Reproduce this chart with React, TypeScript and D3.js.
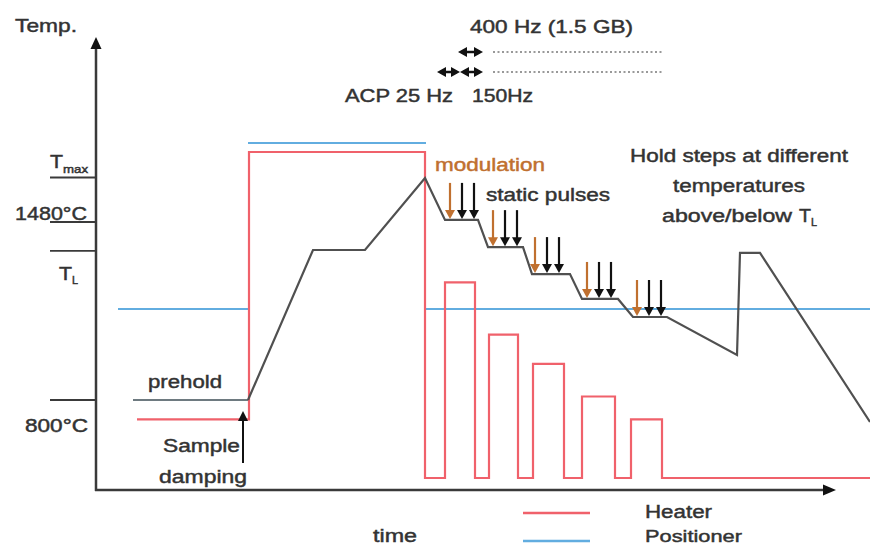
import React from 'react';
import * as d3 from 'd3';

const W = 870;
const H = 546;

// Temperature programme (arbitrary time units, °C)
const tempTime = [152, 217, 269, 329, 349, 382, 392, 427, 436, 474, 486, 522, 537, 571, 641, 644, 664, 774];
const tempValue = [800, 1373, 1373, 1648, 1488, 1488, 1384, 1384, 1281, 1281, 1186, 1186, 1117, 1117, 972, 1362, 1362, 716];

// Heater power (% of max), step changes
const heaterTime = [41, 153, 329, 349, 379, 393, 422, 437, 468, 486, 519, 535, 566, 774];
const heaterPower = [18, 100, 0, 60, 0, 44, 0, 35, 0, 25, 0, 18, 0, 0];

// Positioner level (0 = low, 1 = high)
const positionerStart = [22, 152, 330];
const positionerEnd = [152, 330, 774];
const positionerLevel = [0, 1, 0];

// Prehold line
const preholdStart = 37;
const preholdEnd = 152;
const preholdTemp = 800;

// Hold steps with modulation / static pulse arrows
const holdStepTime = [354, 397, 439, 491, 541];
const holdStepTemp = [1488, 1384, 1281, 1186, 1117];

// Y-axis ticks
const tickTemps = [1650, 1480, 1370, 800];

// Sample damping time
const dampingTime = 147;

// Frequency annotation (time units)
const freq400 = [[362, 387]];
const freqACP = [[341, 364], [364, 387]];
const dottedStart = 397;
const dottedEnd = 567;

const x = d3.scaleLinear().domain([0, 740]).range([96, 836]);
const yT = d3.scaleLinear().domain([800, 1480]).range([400, 222]);
const yH = d3.scaleLinear().domain([0, 100]).range([478, 152]);
const yP = d3.scaleLinear().domain([0, 1]).range([309, 143]);

const RED = '#f0616b';
const BLUE = '#62ade0';
const CURVE = '#505050';
const AXIS = '#3a3a3a';
const TEXT = '#333333';
const ORANGE = '#c0702f';
const FONT = '"Liberation Sans", Arial, sans-serif';

function Txt({ x: tx, y: ty, w, size = 18, fill = TEXT, children }: any) {
  return (
    <text x={tx} y={ty} fontSize={size} fill={fill} stroke={fill} strokeWidth={0.45} fontFamily={FONT}
      textLength={w} lengthAdjust="spacingAndGlyphs">{children}</text>
  );
}

function DownArrow({ cx, tip, color }: { cx: number; tip: number; color: string }) {
  const len = 36;
  return (
    <g>
      <line x1={cx} x2={cx} y1={tip - len} y2={tip - 7} stroke={color} strokeWidth={2.2} />
      <path d={`M${cx - 5},${tip - 9} L${cx + 5},${tip - 9} L${cx},${tip} Z`} fill={color} />
    </g>
  );
}

function DoubleArrow({ x1, x2, y }: { x1: number; x2: number; y: number }) {
  const h = 5;
  const l = 9;
  return (
    <g fill="#111" stroke="#111">
      <line x1={x1 + 3} x2={x2 - 3} y1={y} y2={y} strokeWidth={2.5} />
      <path d={`M${x1},${y} L${x1 + l},${y - h} L${x1 + l},${y + h} Z`} strokeWidth={0} />
      <path d={`M${x2},${y} L${x2 - l},${y - h} L${x2 - l},${y + h} Z`} strokeWidth={0} />
    </g>
  );
}

export default function App() {
  const tempLine = d3.line<number>()
    .x((_, i) => x(tempTime[i]))
    .y((_, i) => yT(tempValue[i]));
  const heaterLine = d3.line<number>()
    .x((_, i) => x(heaterTime[i]))
    .y((_, i) => yH(heaterPower[i]))
    .curve(d3.curveStepAfter);

  const axisTop = 37;
  const axisRight = 836;
  const axisY = 490;
  const axisX = 96;

  return (
    <svg width={W} height={H} style={{ position: 'absolute', left: 0, top: 0, background: '#fff' }}>
      <rect width={W} height={H} fill="#fff" />

      {/* Axes */}
      <line x1={axisX} x2={axisX} y1={axisY + 1} y2={axisTop + 10} stroke={AXIS} strokeWidth={2.5} />
      <path d={`M${axisX - 5.5},${axisTop + 12} L${axisX + 5.5},${axisTop + 12} L${axisX},${axisTop} Z`} fill="#111" />
      <line x1={axisX - 1} x2={axisRight - 10} y1={axisY} y2={axisY} stroke={AXIS} strokeWidth={2.5} />
      <path d={`M${axisRight - 13},${axisY - 5.5} L${axisRight - 13},${axisY + 5.5} L${axisRight},${axisY} Z`} fill="#111" />

      {/* Y ticks */}
      {tickTemps.map((t, i) => (
        <line key={i} x1={50} x2={axisX} y1={yT(t)} y2={yT(t)} stroke={AXIS} strokeWidth={1.8} />
      ))}

      {/* Positioner */}
      {positionerStart.map((s, i) => (
        <line key={i} x1={x(s)} x2={x(positionerEnd[i])} y1={yP(positionerLevel[i])} y2={yP(positionerLevel[i])}
          stroke={BLUE} strokeWidth={2} />
      ))}

      {/* Heater */}
      <path d={heaterLine(heaterTime) || ''} fill="none" stroke={RED} strokeWidth={2.2} />

      {/* Prehold */}
      <line x1={x(preholdStart)} x2={x(preholdEnd)} y1={yT(preholdTemp)} y2={yT(preholdTemp)} stroke="#6e7a80" strokeWidth={2} />

      {/* Temperature curve */}
      <path d={tempLine(tempTime) || ''} fill="none" stroke={CURVE} strokeWidth={2.2} strokeLinejoin="miter" />

      {/* Sample damping arrow */}
      <line x1={x(dampingTime)} x2={x(dampingTime)} y1={463} y2={420} stroke="#111" strokeWidth={2} />
      <path d={`M${x(dampingTime) - 5},${421} L${x(dampingTime) + 5},${421} L${x(dampingTime)},${411} Z`} fill="#111" />

      {/* Modulation / static pulse arrows */}
      {holdStepTime.map((t, i) => {
        const cx = x(t);
        const tip = yT(holdStepTemp[i]) - 1;
        return (
          <g key={i}>
            <DownArrow cx={cx} tip={tip} color={ORANGE} />
            <DownArrow cx={cx + 12} tip={tip} color="#111" />
            <DownArrow cx={cx + 24} tip={tip} color="#111" />
          </g>
        );
      })}

      {/* Frequency annotation */}
      {freq400.map((f, i) => <DoubleArrow key={'a' + i} x1={x(f[0])} x2={x(f[1])} y={52} />)}
      {freqACP.map((f, i) => <DoubleArrow key={'b' + i} x1={x(f[0])} x2={x(f[1])} y={72} />)}
      <line x1={x(dottedStart)} x2={x(dottedEnd)} y1={52} y2={52} stroke="#999" strokeWidth={2} strokeDasharray="2 2.5" />
      <line x1={x(dottedStart)} x2={x(dottedEnd)} y1={72} y2={72} stroke="#999" strokeWidth={2} strokeDasharray="2 2.5" />

      {/* Texts */}
      <Txt x={15} y={32} w={62} size={19}>Temp.</Txt>
      <Txt x={470} y={33} w={163} size={18}>400 Hz (1.5 GB)</Txt>
      <Txt x={345} y={102} w={108} size={18}>ACP 25 Hz</Txt>
      <Txt x={472} y={102} w={61} size={18}>150Hz</Txt>

      <Txt x={50} y={168} w={13} size={19}>T</Txt>
      <Txt x={63} y={173} w={25} size={11}>max</Txt>
      <Txt x={15} y={220} w={72} size={18}>1480°C</Txt>
      <Txt x={59} y={280} w={13} size={18}>T</Txt>
      <Txt x={72} y={284} w={6} size={10}>L</Txt>
      <Txt x={148} y={388} w={74} size={18}>prehold</Txt>
      <Txt x={25} y={432} w={63} size={18}>800°C</Txt>
      <Txt x={163} y={452} w={77} size={18}>Sample</Txt>
      <Txt x={159} y={483} w={88} size={18}>damping</Txt>
      <Txt x={373} y={542} w={44} size={18}>time</Txt>

      <Txt x={435} y={171} w={110} size={18} fill={ORANGE}>modulation</Txt>
      <Txt x={486} y={201} w={124} size={18}>static pulses</Txt>
      <Txt x={630} y={162} w={218} size={18}>Hold steps at different</Txt>
      <Txt x={673} y={192} w={132} size={18}>temperatures</Txt>
      <Txt x={662} y={222} w={130} size={18}>above/below</Txt>
      <Txt x={799} y={222} w={12} size={18}>T</Txt>
      <Txt x={811} y={226} w={6} size={10}>L</Txt>

      {/* Legend */}
      <line x1={523} x2={590} y1={513} y2={513} stroke={RED} strokeWidth={2.5} />
      <line x1={523} x2={590} y1={541} y2={541} stroke={BLUE} strokeWidth={2.5} />
      <Txt x={645} y={518} w={67} size={18}>Heater</Txt>
      <Txt x={645} y={542} w={97} size={17}>Positioner</Txt>
    </svg>
  );
}
